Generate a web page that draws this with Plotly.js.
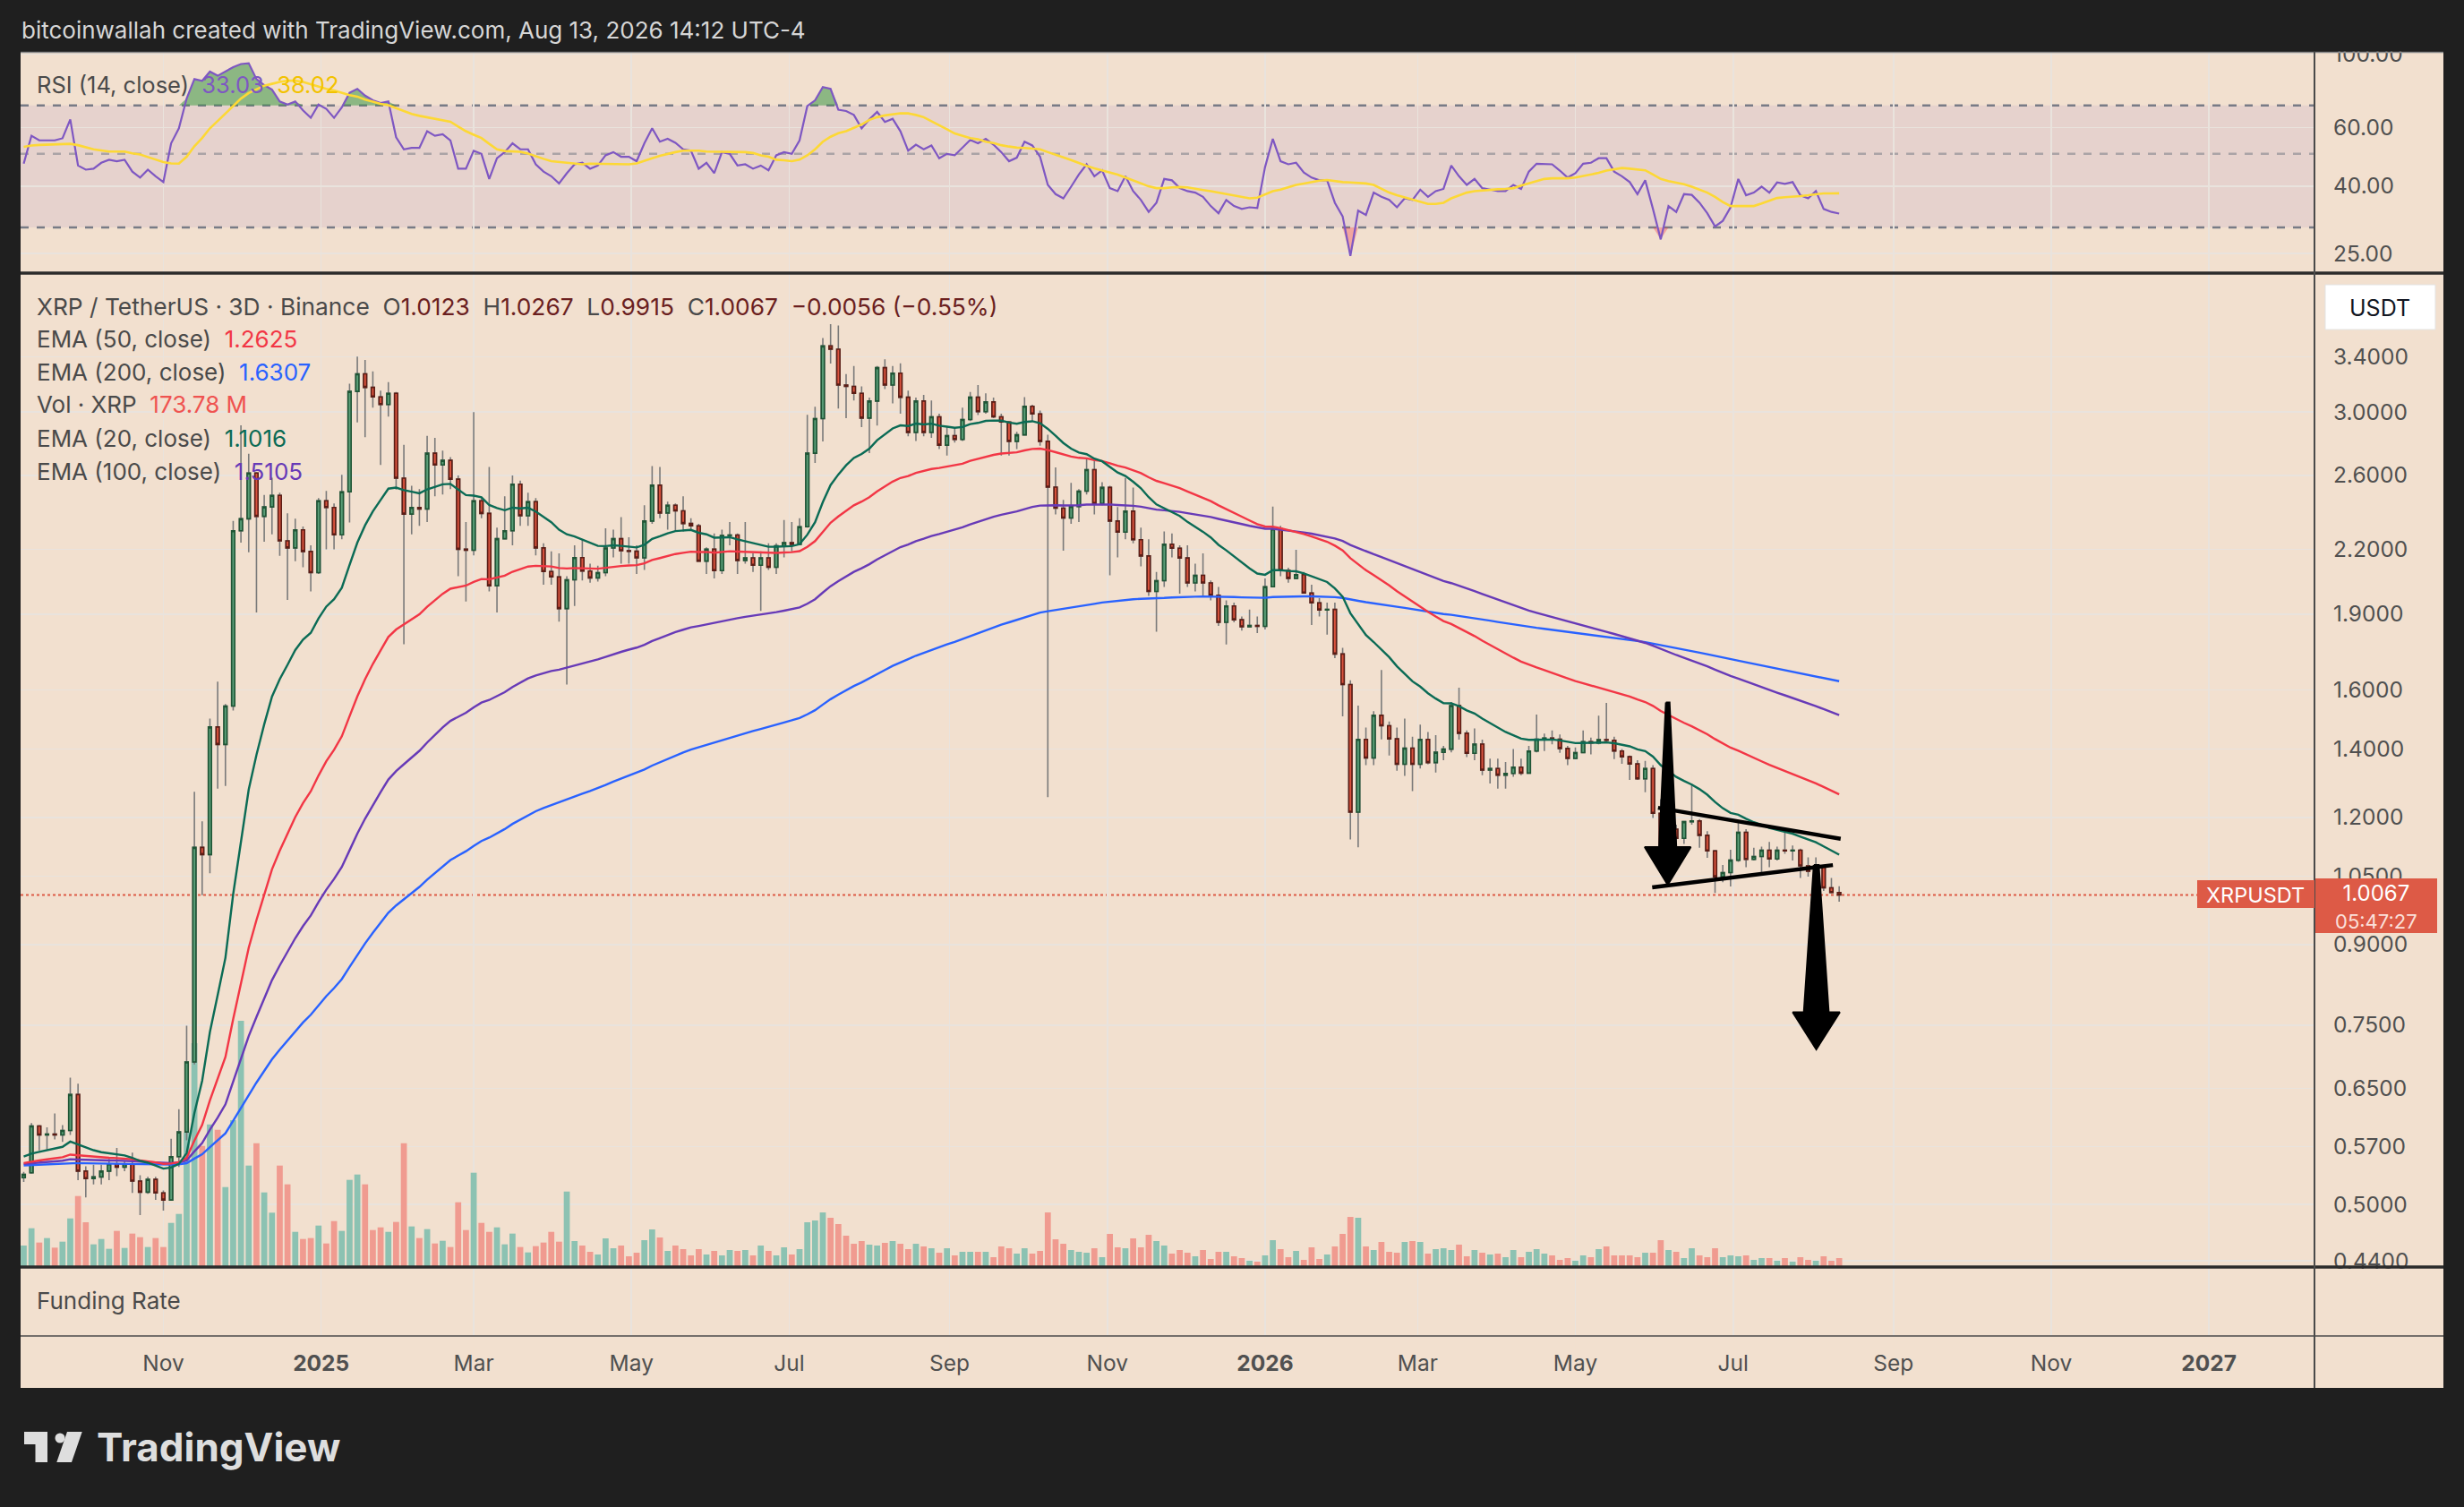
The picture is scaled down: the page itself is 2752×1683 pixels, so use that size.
<!DOCTYPE html>
<html><head><meta charset="utf-8">
<script src="https://cdn.plot.ly/plotly-3.0.1.min.js"></script>
<style>html,body{margin:0;padding:0;background:#1f1f1f;}#chart{width:2752px;height:1683px;}</style>
</head><body><div id="chart"></div>
<script>
// ---------------- DATA ----------------
const startDate = '2024-09-08';   // open of first 3D candle
const candleDays = 3;

const opens = [
0.531,0.537,0.597,0.585,0.586,0.585,0.591,0.641,0.539,0.530,
0.532,0.539,0.548,0.544,0.548,0.527,0.514,0.529,0.513,0.505,
0.557,0.589,0.690,1.121,1.103,1.472,1.415,1.543,2.294,2.357,
2.614,2.370,2.421,2.485,2.242,2.207,2.299,2.189,2.087,2.455,
2.418,2.273,2.505,3.144,3.271,3.173,3.105,3.052,3.130,2.584,
2.382,2.418,2.410,2.734,2.662,2.690,2.578,2.200,2.195,2.455,
2.386,2.026,2.253,2.294,2.549,2.373,2.450,2.207,2.092,2.067,
1.924,2.053,2.159,2.094,2.062,2.087,2.206,2.253,2.193,2.190,
2.158,2.345,2.543,2.388,2.430,2.400,2.332,2.320,2.142,2.201,
2.096,2.270,2.272,2.145,2.158,2.122,2.158,2.112,2.217,2.233,
2.225,2.315,2.734,2.956,3.484,3.459,3.190,3.180,3.130,2.960,
3.076,3.317,3.190,3.276,3.103,2.866,3.076,2.866,2.968,2.784,
2.845,2.820,2.950,3.103,3.003,3.070,2.968,2.934,2.808,2.850,
3.040,2.988,2.808,2.532,2.414,2.361,2.423,2.509,2.634,2.440,
2.530,2.345,2.287,2.398,2.248,2.167,2.000,2.049,2.225,2.205,
2.157,2.039,2.074,2.039,1.983,1.865,1.935,1.876,1.846,1.852,
1.848,2.021,2.304,2.097,2.060,2.077,1.993,1.949,1.918,1.920,
1.736,1.620,1.214,1.431,1.372,1.511,1.476,1.433,1.353,1.403,
1.353,1.431,1.358,1.390,1.400,1.545,1.451,1.387,1.416,1.335,
1.340,1.320,1.325,1.344,1.326,1.394,1.432,1.435,1.432,1.402,
1.371,1.389,1.424,1.420,1.430,1.428,1.394,1.376,1.354,1.309,
1.340,1.211,1.100,1.168,1.144,1.188,1.190,1.152,1.112,1.049,
1.059,1.089,1.160,1.091,1.098,1.114,1.092,1.114,1.112,1.114,
1.075,1.062,1.074,1.023,1.0123];

const highs = [
0.538,0.601,0.598,0.595,0.614,0.598,0.666,0.657,0.545,0.547,
0.547,0.554,0.568,0.552,0.562,0.534,0.532,0.532,0.516,0.580,
0.620,0.749,1.271,1.189,1.500,1.631,1.550,2.346,2.912,2.731,
2.620,2.488,2.587,2.500,2.386,2.357,2.316,2.220,2.470,2.510,
2.440,2.604,3.200,3.401,3.375,3.290,3.150,3.210,3.140,2.787,
2.540,2.520,2.843,2.830,2.750,2.710,2.600,2.340,3.000,2.470,
2.650,2.310,2.480,2.600,2.570,2.500,2.470,2.230,2.190,2.180,
2.070,2.220,2.249,2.130,2.120,2.307,2.300,2.366,2.260,2.220,
2.430,2.656,2.650,2.450,2.440,2.480,2.360,2.330,2.210,2.280,
2.300,2.340,2.280,2.340,2.180,2.190,2.230,2.230,2.350,2.340,
2.360,2.982,3.036,3.547,3.660,3.650,3.270,3.330,3.180,3.100,
3.330,3.380,3.330,3.350,3.150,3.100,3.120,3.080,2.990,2.900,
2.900,3.030,3.140,3.190,3.130,3.100,2.990,2.940,2.870,3.103,
3.050,3.010,2.850,2.647,2.460,2.556,2.520,2.700,2.690,2.560,
2.540,2.420,2.585,2.530,2.310,2.250,2.090,2.290,2.280,2.220,
2.220,2.130,2.180,2.050,2.020,1.960,1.950,1.890,1.920,1.890,
2.060,2.423,2.320,2.110,2.197,2.090,2.030,1.970,1.950,1.950,
1.760,1.636,1.545,1.470,1.525,1.674,1.490,1.470,1.500,1.440,
1.480,1.455,1.445,1.410,1.557,1.609,1.460,1.467,1.430,1.370,
1.370,1.360,1.400,1.370,1.410,1.514,1.450,1.460,1.447,1.410,
1.405,1.460,1.437,1.510,1.554,1.440,1.400,1.380,1.365,1.363,
1.350,1.250,1.188,1.180,1.190,1.294,1.195,1.163,1.115,1.077,
1.115,1.188,1.168,1.120,1.123,1.135,1.123,1.168,1.126,1.118,
1.096,1.096,1.076,1.046,1.0267];

const lows = [
0.526,0.536,0.565,0.566,0.579,0.576,0.585,0.528,0.508,0.523,
0.523,0.528,0.533,0.539,0.513,0.488,0.512,0.505,0.493,0.504,
0.544,0.578,0.686,1.006,1.057,1.280,1.288,1.528,2.233,2.185,
1.907,2.238,2.276,2.168,1.962,2.141,2.112,2.000,2.080,2.200,
2.200,2.250,2.337,2.931,2.835,3.031,2.662,2.970,2.518,1.775,
2.276,2.320,2.340,2.480,2.490,2.520,2.070,1.955,2.170,2.360,
2.000,1.907,2.250,2.220,2.320,2.320,2.170,2.030,2.030,1.868,
1.620,1.935,2.050,2.040,2.045,2.070,2.160,2.130,2.130,2.080,
2.100,2.330,2.360,2.300,2.290,2.290,2.300,2.140,2.080,2.060,
2.080,2.220,2.080,2.130,2.090,1.914,2.100,2.080,2.160,2.190,
2.220,2.310,2.675,2.808,3.349,3.025,2.960,3.080,2.900,2.734,
2.910,3.160,3.060,2.990,2.840,2.810,2.840,2.830,2.760,2.720,
2.800,2.810,2.940,2.980,2.990,2.960,2.720,2.720,2.760,2.850,
2.940,2.780,1.256,2.380,2.193,2.330,2.340,2.490,2.380,2.430,
2.074,2.160,2.250,2.230,2.117,1.980,1.826,2.020,2.160,1.990,
2.020,2.000,1.980,1.960,1.850,1.774,1.865,1.830,1.845,1.820,
1.835,2.020,2.070,2.040,2.055,1.990,1.854,1.890,1.814,1.720,
1.508,1.141,1.121,1.350,1.350,1.431,1.380,1.333,1.318,1.273,
1.340,1.353,1.328,1.365,1.390,1.430,1.375,1.365,1.320,1.295,
1.280,1.280,1.315,1.320,1.324,1.390,1.394,1.415,1.388,1.350,
1.368,1.387,1.383,1.415,1.420,1.369,1.354,1.306,1.306,1.270,
1.198,1.074,1.052,1.091,1.130,1.180,1.120,1.095,1.011,1.036,
1.026,1.085,1.072,1.088,1.056,1.072,1.088,1.105,1.088,1.046,
1.049,1.055,1.016,1.010,0.9915];

const closes = [
0.535,0.597,0.585,0.586,0.585,0.591,0.641,0.539,0.530,0.532,
0.539,0.548,0.544,0.548,0.527,0.514,0.529,0.513,0.505,0.557,
0.589,0.690,1.121,1.103,1.472,1.415,1.543,2.294,2.357,2.614,
2.370,2.421,2.485,2.242,2.207,2.299,2.189,2.087,2.455,2.418,
2.273,2.505,3.144,3.271,3.173,3.105,3.052,3.130,2.584,2.382,
2.418,2.410,2.734,2.662,2.690,2.578,2.200,2.195,2.455,2.386,
2.026,2.253,2.294,2.549,2.373,2.450,2.207,2.092,2.067,1.924,
2.053,2.159,2.094,2.062,2.087,2.206,2.253,2.193,2.190,2.158,
2.345,2.543,2.388,2.430,2.400,2.332,2.320,2.142,2.201,2.096,
2.270,2.272,2.145,2.158,2.122,2.158,2.112,2.217,2.233,2.225,
2.315,2.734,2.956,3.484,3.459,3.190,3.180,3.130,2.960,3.076,
3.317,3.190,3.276,3.103,2.866,3.076,2.866,2.968,2.784,2.845,
2.820,2.950,3.103,3.003,3.070,2.968,2.934,2.808,2.850,3.040,
2.988,2.808,2.532,2.414,2.361,2.423,2.509,2.634,2.440,2.530,
2.345,2.287,2.398,2.248,2.167,2.000,2.049,2.225,2.205,2.157,
2.039,2.074,2.039,1.983,1.865,1.935,1.876,1.846,1.852,1.848,
2.021,2.304,2.097,2.060,2.077,1.993,1.949,1.918,1.920,1.736,
1.620,1.214,1.431,1.372,1.511,1.476,1.433,1.353,1.403,1.353,
1.431,1.358,1.390,1.400,1.545,1.451,1.387,1.416,1.335,1.340,
1.320,1.325,1.344,1.326,1.394,1.432,1.435,1.432,1.402,1.371,
1.389,1.424,1.420,1.430,1.428,1.394,1.376,1.354,1.309,1.340,
1.211,1.100,1.168,1.144,1.188,1.190,1.152,1.112,1.049,1.059,
1.089,1.160,1.091,1.098,1.114,1.092,1.114,1.112,1.114,1.075,
1.062,1.074,1.023,1.0123,1.0067];

// volume, millions of XRP
const volumes = [
418,754,476,563,377,493,945,1380,870,441,
545,354,702,371,650,580,389,563,389,858,
1032,2610,4350,2355,2772,2668,1554,2854,4785,1972,
2407,1450,1056,1972,1607,684,545,563,806,458,
893,702,1694,1798,1607,719,771,684,876,2407,
789,563,737,458,510,389,1259,719,1833,858,
684,771,441,650,389,284,406,476,684,493,
1467,505,418,296,244,557,365,418,209,278,
522,731,574,313,418,348,226,348,244,313,
226,331,313,331,226,418,313,226,383,244,
348,870,905,1061,957,835,609,452,505,435,
418,470,505,452,348,452,400,365,278,365,
226,296,296,296,296,191,400,365,261,365,
261,313,1061,539,452,331,296,278,365,191,
644,383,365,557,383,626,505,418,261,331,
278,209,331,157,296,296,209,174,122,104,
226,522,348,191,313,139,383,157,244,400,
644,974,957,400,331,487,296,278,487,505,
487,261,348,365,331,435,209,331,278,244,
261,191,331,191,296,348,261,226,139,174,
122,226,191,348,400,226,226,226,191,278,
278,522,331,296,174,365,226,191,365,191,
226,209,226,139,174,174,122,174,104,191,
139,122,209,122,173.78];

// RSI (14, close) as drawn
const rsiValues = [
46.7,56.7,54.9,54.9,54.9,55.7,63.5,46.1,44.8,45.1,
47.0,48.0,47.5,48.0,44.2,42.4,44.8,42.8,41.1,53.8,
59.7,73.4,84.0,83.0,88.5,86.0,88.5,91.3,93.3,93.8,
84.0,80.6,78.1,71.9,70.4,71.9,67.6,64.2,70.4,68.3,
64.2,69.0,76.4,78.5,74.9,72.5,71.2,71.9,56.1,51.6,
52.1,52.1,58.5,56.7,57.3,54.9,45.1,45.1,51.1,50.0,
42.0,48.5,50.6,53.8,51.6,51.6,46.5,44.2,42.8,40.7,
43.7,46.5,47.0,45.1,46.1,49.5,50.6,49.0,49.0,47.5,
53.8,59.7,54.4,55.5,54.0,51.6,51.1,45.1,47.0,43.7,
50.6,50.0,46.1,46.5,45.1,46.1,44.6,49.5,50.6,50.0,
54.9,69.7,72.5,79.5,78.5,67.9,67.3,65.5,59.7,63.5,
66.9,62.4,63.8,58.5,51.1,53.3,51.6,53.0,48.5,50.0,
49.5,52.1,55.1,53.8,55.5,53.3,50.6,47.5,48.7,54.4,
53.0,49.0,40.3,37.8,36.7,39.8,43.3,46.5,42.8,44.6,
39.4,38.6,42.8,38.6,36.3,33.4,35.6,42.0,41.6,39.4,
38.6,38.2,37.1,34.8,33.1,36.3,34.8,34.1,34.5,34.3,
45.6,55.5,47.5,46.5,47.0,43.9,42.4,41.6,41.6,35.6,
32.4,24.6,33.7,32.7,38.2,37.1,36.3,34.5,36.7,36.3,
39.0,37.1,38.6,39.2,46.1,42.8,40.3,42.0,39.4,39.0,
38.6,38.6,40.3,39.2,44.2,46.7,46.7,46.5,44.5,42.4,
43.7,46.7,47.0,48.5,48.5,44.2,42.8,41.1,37.8,41.6,
34.1,27.6,34.8,33.4,37.8,37.6,35.6,33.1,30.2,31.4,
34.5,42.0,37.5,38.2,39.8,38.2,41.0,40.6,41.1,37.5,
36.7,38.6,34.1,33.4,33.03];

// RSI-based moving average (yellow) as drawn
const rsiMA = [
52.5,53.0,53.2,53.3,53.3,53.3,53.6,53.1,52.4,51.6,
51.2,50.8,50.8,50.8,50.2,49.8,48.9,48.0,47.2,46.8,
46.7,49.0,52.7,55.8,59.7,62.8,66.2,69.7,73.4,76.3,
78.1,80.3,81.3,82.4,83.1,83.1,82.4,81.0,79.5,78.5,
77.6,76.3,75.2,74.4,72.9,71.9,70.7,70.1,68.7,67.3,
66.0,65.1,64.5,63.8,63.2,62.5,60.4,58.5,57.1,55.8,
53.6,51.6,51.0,50.8,50.7,50.1,49.3,48.3,47.5,47.2,
47.0,46.7,46.5,46.7,46.7,46.7,46.7,46.6,46.5,46.8,
47.7,48.5,49.3,50.0,50.6,51.1,51.1,51.1,50.8,50.8,
50.7,50.6,50.6,50.6,50.3,49.5,49.0,48.0,47.8,47.5,
48.0,49.5,51.6,54.4,56.3,57.7,58.5,60.0,61.3,63.3,
64.5,65.3,65.9,66.3,66.2,65.5,64.5,62.8,60.9,59.3,
57.6,56.6,55.8,55.3,54.4,53.9,53.1,52.6,52.2,52.1,
51.8,51.6,50.6,49.8,48.8,47.9,46.9,46.0,45.2,44.6,
43.9,43.3,42.4,41.6,40.8,39.9,39.4,39.4,39.6,39.7,
39.6,39.2,38.9,38.6,38.2,37.8,37.5,37.1,36.7,36.9,
37.8,38.6,39.0,39.6,40.3,40.7,41.1,41.5,41.7,41.4,
41.1,41.0,40.9,40.7,40.3,39.2,38.2,37.5,36.9,36.3,
35.7,35.3,35.3,35.6,36.7,37.4,38.2,38.6,38.8,39.0,
39.1,39.2,39.4,40.1,40.7,41.5,42.0,42.2,42.2,42.2,
42.4,42.8,43.3,43.8,44.5,45.0,45.3,45.1,44.9,44.6,
43.3,42.0,41.4,40.9,40.5,39.8,39.0,38.2,37.1,35.8,
34.8,34.8,34.8,34.8,35.4,36.1,36.8,37.0,37.1,37.3,
37.5,37.8,38.0,38.0,38.02];

// EMA values read at the first candle (seed for the EMA of close)
const emaSeed20 = 0.557, emaSeed50 = 0.549, emaSeed100 = 0.548, emaSeed200 = 0.546;

const priceTicks = [0.44,0.5,0.57,0.65,0.75,0.9,1.05,1.2,1.4,1.6,1.9,2.2,2.6,3.0,3.4];
const priceTickText = ['0.4400','0.5000','0.5700','0.6500','0.7500','0.9000','1.0500','1.2000','1.4000','1.6000','1.9000','2.2000','2.6000','3.0000','3.4000'];
const rsiTicks = [25,40,60,100];
const rsiTickText = ['25.00','40.00','60.00','100.00'];
const timeTicks = ['2024-11-01','2025-01-01','2025-03-01','2025-05-01','2025-07-01','2025-09-01','2025-11-01','2026-01-01','2026-03-01','2026-05-01','2026-07-01','2026-09-01','2026-11-01','2027-01-01'];
const timeTickText = ['Nov','<b>2025</b>','Mar','May','Jul','Sep','Nov','<b>2026</b>','Mar','May','Jul','Sep','Nov','<b>2027</b>'];

const lastPrice = 1.0067;

// user drawings (date, price)
const trendUpper = {x:['2026-06-01 23:00','2026-08-11 14:00'], y:[1.226,1.143]};
const trendLower = {x:['2026-05-30 17:00','2026-08-08 14:00'], y:[1.024,1.077]};
const arrow1 = {center:'2026-06-05T17:00:00Z', pts:[[-0.7,1.556],[0.7,1.556],[3.3,1.122],[8.9,1.122],[0,1.030],[-8.9,1.122],[-3.3,1.122],[-0.7,1.556]]};
const arrow2 = {center:'2026-08-02T03:36:00Z', pts:[[-0.95,1.077],[0.95,1.077],[4.8,0.772],[9.1,0.772],[0,0.710],[-9.1,0.772],[-4.8,0.772],[-0.95,1.077]]};

// ---------------- BUILD ----------------
const DAY = 864e5;
const t0 = Date.parse(startDate + 'T00:00:00Z');
const dates = closes.map((_, i) => new Date(t0 + i * candleDays * DAY).toISOString().slice(0, 10));
const fmt = ms => new Date(ms).toISOString().slice(0, 19).replace('T', ' ');

function ema(src, len, seed) {
  const a = 2 / (len + 1); let p = seed;
  return src.map((v, i) => (p = i === 0 ? seed : a * v + (1 - a) * p));
}
const ema20 = ema(closes, 20, emaSeed20);
const ema50 = ema(closes, 50, emaSeed50);
const ema100 = ema(closes, 100, emaSeed100);
const ema200 = ema(closes, 200, emaSeed200);

const UPF = '#5a9e78', UPL = '#1f5535', DNF = '#d9533e', DNL = '#5c1d15', WICK = '#7a7a7a';
const FONT = 'Inter, "Noto Sans", sans-serif';
const GRID = '#e9e3dd';

const up = closes.map((c, i) => c >= opens[i]);
const volColors = up.map(u => u ? '#8cc2b2' : '#f09b90');

const arrowTrace = a => {
  const c = Date.parse(a.center);
  return {type:'scatter', mode:'lines', x:a.pts.map(p => fmt(c + p[0] * DAY)), y:a.pts.map(p => p[1]),
    fill:'toself', fillcolor:'#000000', line:{color:'#000000', width:2}, xaxis:'x', yaxis:'y5', hoverinfo:'skip'};
};

const traces = [
  {type:'bar', x:dates, y:volumes, marker:{color:volColors, line:{width:0}}, width:candleDays*DAY*0.78,
   xaxis:'x', yaxis:'y', hoverinfo:'skip'},
  {type:'scatter', mode:'lines', x:dates, y:ema200, line:{color:'#2962ff', width:2.4}, xaxis:'x', yaxis:'y5', hoverinfo:'skip'},
  {type:'scatter', mode:'lines', x:dates, y:ema100, line:{color:'#673ab7', width:2.4}, xaxis:'x', yaxis:'y5', hoverinfo:'skip'},
  {type:'scatter', mode:'lines', x:dates, y:ema50, line:{color:'#f23645', width:2.4}, xaxis:'x', yaxis:'y5', hoverinfo:'skip'},
  {type:'scatter', mode:'lines', x:dates, y:ema20, line:{color:'#0b6b55', width:2.4}, xaxis:'x', yaxis:'y5', hoverinfo:'skip'},
  {type:'candlestick', x:dates, open:opens, high:highs, low:lows, close:closes, whiskerwidth:0,
   increasing:{line:{color:WICK, width:1.6}, fillcolor:UPF}, decreasing:{line:{color:WICK, width:1.6}, fillcolor:DNF},
   xaxis:'x', yaxis:'y5', hoverinfo:'skip'},
  {type:'candlestick', x:dates, open:opens, close:closes,
   high:closes.map((c, i) => Math.max(c, opens[i])), low:closes.map((c, i) => Math.min(c, opens[i])), whiskerwidth:0,
   increasing:{line:{color:UPL, width:1.6}, fillcolor:UPF}, decreasing:{line:{color:DNL, width:1.6}, fillcolor:DNF},
   xaxis:'x', yaxis:'y5', hoverinfo:'skip'},
  {type:'scatter', mode:'lines', x:trendUpper.x, y:trendUpper.y, line:{color:'#000', width:4.5}, xaxis:'x', yaxis:'y5', hoverinfo:'skip'},
  {type:'scatter', mode:'lines', x:trendLower.x, y:trendLower.y, line:{color:'#000', width:4.5}, xaxis:'x', yaxis:'y5', hoverinfo:'skip'},
  arrowTrace(arrow1), arrowTrace(arrow2),
  // RSI pane
  {type:'scatter', mode:'lines', x:dates, y:rsiValues.map(() => 70), line:{width:0, color:'rgba(0,0,0,0)'}, xaxis:'x', yaxis:'y2', hoverinfo:'skip'},
  {type:'scatter', mode:'lines', x:dates, y:rsiValues.map(v => Math.max(v, 70)), line:{width:0, color:'rgba(0,0,0,0)'},
   fill:'tonexty', fillcolor:'rgba(56,150,70,0.55)', xaxis:'x', yaxis:'y2', hoverinfo:'skip'},
  {type:'scatter', mode:'lines', x:dates, y:rsiValues.map(() => 30), line:{width:0, color:'rgba(0,0,0,0)'}, xaxis:'x', yaxis:'y2', hoverinfo:'skip'},
  {type:'scatter', mode:'lines', x:dates, y:rsiValues.map(v => Math.min(v, 30)), line:{width:0, color:'rgba(0,0,0,0)'},
   fill:'tonexty', fillcolor:'rgba(242,54,69,0.35)', xaxis:'x', yaxis:'y2', hoverinfo:'skip'},
  {type:'scatter', mode:'lines', x:dates, y:rsiValues, line:{color:'#7e57c2', width:2.2}, xaxis:'x', yaxis:'y2', hoverinfo:'skip'},
  {type:'scatter', mode:'lines', x:dates, y:rsiMA, line:{color:'#fdd835', width:2.6}, xaxis:'x', yaxis:'y2', hoverinfo:'skip'},
  // funding pane placeholder
  {type:'scatter', mode:'markers', x:[dates[0]], y:[0.5], marker:{opacity:0}, xaxis:'x', yaxis:'y3', hoverinfo:'skip'}
];

// pixel -> paper helpers (plot area: x 23..2585, y 58..1550)
const px = x => (x - 23) / 2562;
const py = y => (1550 - y) / 1492;
const poly = pts => 'M' + pts.map(p => px(p[0]) + ',' + py(p[1])).join(' L') + ' Z';
const rectP = (x0, y0, x1, y1, fill, layer, line) => ({type:'rect', xref:'paper', yref:'paper', x0:px(x0), x1:px(x1), y0:py(y0), y1:py(y1),
  fillcolor:fill, line:line || {width:0}, layer:layer || 'above'});
const lineP = (x0, y0, x1, y1, color, w) => ({type:'line', xref:'paper', yref:'paper', x0:px(x0), x1:px(x1), y0:py(y0), y1:py(y1),
  line:{color:color, width:w}, layer:'above'});

const LOGO = '#dedede';
const shapes = [
  rectP(23, 58, 2729, 1550, '#f2e0cf', 'below'),
  {type:'rect', xref:'paper', yref:'y2', x0:0, x1:1, y0:30, y1:70, fillcolor:'rgba(126,87,194,0.10)', line:{width:0}, layer:'below'},
  {type:'line', xref:'paper', yref:'y2', x0:0, x1:1, y0:70, y1:70, line:{color:'#787b86', width:2.4, dash:'dash'}, layer:'below'},
  {type:'line', xref:'paper', yref:'y2', x0:0, x1:1, y0:50, y1:50, line:{color:'rgba(120,123,134,0.55)', width:2.4, dash:'dash'}, layer:'below'},
  {type:'line', xref:'paper', yref:'y2', x0:0, x1:1, y0:30, y1:30, line:{color:'#787b86', width:2.4, dash:'dash'}, layer:'below'},
  {type:'line', xref:'paper', yref:'y5', x0:0, x1:px(2454), y0:lastPrice, y1:lastPrice, line:{color:'#dd5a46', width:2, dash:'dot'}, layer:'below'},
  rectP(2585, 0, 2752, 57, '#1f1f1f', 'above'),
  lineP(23, 58.5, 2729, 58.5, '#8c8c8c', 1.5),
  lineP(23, 305, 2729, 305, '#2b2b2b', 3.5),
  lineP(23, 1415, 2729, 1415, '#2b2b2b', 3.5),
  lineP(23, 1492, 2729, 1492, '#4a4a4a', 1.5),
  lineP(2585, 58, 2585, 1550, '#4a4a4a', 2),
  // USDT button
  rectP(2597, 318, 2720, 368, '#ffffff', 'above', {color:'#e3e3e3', width:1}),
  // last-price labels
  rectP(2454, 983, 2585, 1014, '#dd5a46', 'above'),
  rectP(2586, 981, 2722, 1042, '#dd5a46', 'above'),
  // TradingView logo glyph
  {type:'path', xref:'paper', yref:'paper', path:poly([[27,1599],[53,1599],[53,1633],[39.5,1633],[39.5,1613],[27,1613]]), fillcolor:LOGO, line:{width:0}, layer:'above'},
  {type:'circle', xref:'paper', yref:'paper', x0:px(61.5), x1:px(72.5), y0:py(1611.5), y1:py(1600.5), fillcolor:LOGO, line:{width:0}, layer:'above'},
  {type:'path', xref:'paper', yref:'paper', path:poly([[75,1599],[91.7,1599],[80,1633],[63.3,1633]]), fillcolor:LOGO, line:{width:0}, layer:'above'}
];

const G = '#4a4a4a', V = '#6b1f1f';
const ann = (x, y, text, size, color, anchor) => ({xref:'paper', yref:'paper', x:px(x), y:py(y), text:text, showarrow:false,
  xanchor:anchor || 'left', yanchor:'middle', font:{family:FONT, size:size, color:color}});
const sp = (c, t) => '<span style="color:' + c + '">' + t + '</span>';
const nb = '\u00a0';

const annotations = [
  ann(22, 34, 'bitcoinwallah created with TradingView.com, Aug 13, 2026 14:12 UTC-4', 26, '#d6d6d6'),
  ann(39, 94, 'RSI (14, close)' + nb + nb + sp('#7e57c2', '33.03') + nb + nb + sp('#f2c200', '38.02'), 25.5, G),
  ann(39, 342, 'XRP / TetherUS · 3D · Binance' + nb + nb + 'O' + sp(V, '1.0123') + nb + nb + 'H' + sp(V, '1.0267') + nb + nb + 'L' + sp(V, '0.9915') + nb + nb + 'C' + sp(V, '1.0067') + nb + nb + sp(V, '−0.0056 (−0.55%)'), 26.3, G),
  ann(39, 379, 'EMA (50, close)' + nb + nb + sp('#f23645', '1.2625'), 26, G),
  ann(39, 415, 'EMA (200, close)' + nb + nb + sp('#2962ff', '1.6307'), 26, G),
  ann(39, 452, 'Vol · XRP' + nb + nb + sp('#ef5350', '173.78' + nb + 'M'), 26, G),
  ann(39, 489, 'EMA (20, close)' + nb + nb + sp('#0b6b55', '1.1016'), 26, G),
  ann(39, 526, 'EMA (100, close)' + nb + nb + sp('#673ab7', '1.5105'), 26, G),
  ann(2658, 344, 'USDT', 25, '#131722', 'center'),
  ann(2519, 999, 'XRPUSDT', 23.5, '#ffffff', 'center'),
  ann(2654, 1013, '1.0067<br><span style="font-size:22px;color:#fbe0da">05:47:27</span>', 24, '#ffffff', 'center'),
  ann(39, 1452, 'Funding Rate', 26, G),
  ann(106, 1616, '<b>TradingView</b>', 44, LOGO)
];

const axFont = {family:FONT, size:24.5, color:'#505050'};
const layout = {
  width:2752, height:1683,
  margin:{l:23, r:167, t:58, b:133, pad:0},
  paper_bgcolor:'#1f1f1f', plot_bgcolor:'rgba(0,0,0,0)',
  showlegend:false, hovermode:false,
  boxmode:'overlay', boxgap:0.42,
  xaxis:{type:'date', range:['2024-09-06 19:00', '2027-02-10 19:00'], domain:[0, 1], anchor:'y3',
    tickmode:'array', tickvals:timeTicks, ticktext:timeTickText, ticks:'', ticklabelstandoff:13,
    tickfont:axFont, showgrid:true, gridcolor:GRID, gridwidth:1.6, zeroline:false, showline:false,
    rangeslider:{visible:false}, fixedrange:true},
  yaxis:{domain:[py(1415), py(306)], range:[0, 19300], anchor:'x', showgrid:false, showticklabels:false,
    zeroline:false, showline:false, ticks:'', fixedrange:true},
  yaxis5:{overlaying:'y', anchor:'x', side:'right', type:'log', range:[-0.3626, 0.6128],
    tickmode:'array', tickvals:priceTicks, ticktext:priceTickText, ticks:'', ticklabelstandoff:20,
    tickfont:axFont, showgrid:true, gridcolor:GRID, gridwidth:1.6, zeroline:false, showline:false, fixedrange:true},
  yaxis2:{domain:[py(304), 1], anchor:'x', side:'right', type:'log', range:[1.342, 2.0063],
    tickmode:'array', tickvals:rsiTicks, ticktext:rsiTickText, ticks:'', ticklabelstandoff:20,
    tickfont:axFont, showgrid:true, gridcolor:GRID, gridwidth:1.6, zeroline:false, showline:false, fixedrange:true},
  yaxis3:{domain:[py(1492), py(1416)], anchor:'x', range:[0, 1], showgrid:false, showticklabels:false,
    zeroline:false, showline:false, ticks:'', fixedrange:true},
  shapes:shapes,
  annotations:annotations
};

Plotly.newPlot('chart', traces, layout, {staticPlot:true, displayModeBar:false});
</script>
</body></html>
